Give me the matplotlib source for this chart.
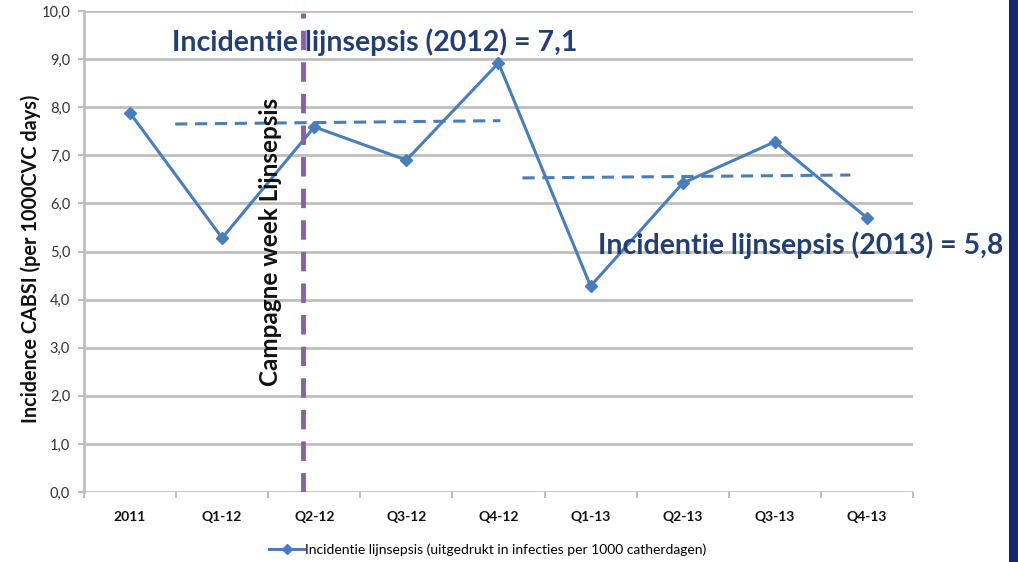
import matplotlib
matplotlib.use("Agg")
import matplotlib.pyplot as plt
from matplotlib.lines import Line2D
from matplotlib.patches import Rectangle

categories = ["2011", "Q1-12", "Q2-12", "Q3-12", "Q4-12", "Q1-13", "Q2-13", "Q3-13", "Q4-13"]
incidence = [7.88, 5.28, 7.59, 6.90, 8.92, 4.28, 6.42, 7.28, 5.70]
yticks = [0, 1, 2, 3, 4, 5, 6, 7, 8, 9, 10]
ytick_labels = ["0,0", "1,0", "2,0", "3,0", "4,0", "5,0", "6,0", "7,0", "8,0", "9,0", "10,0"]
trend2012_x = [0.49, 4.02]
trend2012_y = [7.65, 7.72]
trend2013_x = [4.26, 7.82]
trend2013_y = [6.53, 6.59]
campaign_x = 1.88
legend_label = "Incidentie lijnsepsis (uitgedrukt in infecties per 1000 catherdagen)"
annot2012 = "Incidentie lijnsepsis (2012) = 7,1"
annot2013 = "Incidentie lijnsepsis (2013) = 5,8"
campaign_label = "Campagne week Lijnsepsis"
ylabel = "Incidence CABSI (per 1000CVC days)"

plt.rcParams['font.family'] = ['Lato', 'DejaVu Sans']

W, H = 1018, 562
fig = plt.figure(figsize=(W / 100, H / 100), dpi=100)
ax = fig.add_axes([84 / W, 1 - 492 / H, (913 - 84) / W, (492 - 11) / H])

line_color = "#4A7EBB"
navy = "#233E72"
grid_color = "#BEBEBE"

x = list(range(len(categories)))
ax.plot(x, incidence, color=line_color, lw=2.2, marker="D", ms=6.5, zorder=4)
ax.plot(trend2012_x, trend2012_y, color=line_color, lw=2.2, ls=(0, (4, 2.5)), zorder=3)
ax.plot(trend2013_x, trend2013_y, color=line_color, lw=2.2, ls=(0, (4, 2.5)), zorder=3)
ax.axvline(campaign_x, ymin=0, ymax=0.995, color="#8A5FA8", lw=3.5, ls=(0, (4, 2.5)), zorder=5)

ax.set_xlim(-0.5, len(categories) - 0.5)
ax.set_ylim(0, 10)
ax.set_yticks(yticks)
ax.set_yticklabels(ytick_labels, fontsize=10.5, color="#333333")
ax.set_xticks(x)
ax.set_xticklabels(categories, fontsize=10, fontweight="bold", color="#111111")
ax.tick_params(axis="x", length=0, pad=14)
ax.set_xticks([i + 0.5 for i in range(-1, len(categories))], minor=True)
ax.tick_params(axis="x", which="minor", length=4, color=grid_color, width=1.5)
ax.tick_params(axis="y", length=4, color=grid_color, width=1.5, pad=6)
ax.grid(axis="y", color=grid_color, lw=2)
ax.set_axisbelow(True)
for s in ["top", "right"]:
    ax.spines[s].set_visible(False)
ax.spines["bottom"].set_visible(False)
ax.spines["left"].set_color(grid_color)
ax.spines["left"].set_linewidth(2)

ax.set_ylabel(ylabel, fontsize=14.3, fontweight="bold", color="#111111")
ax.yaxis.set_label_coords(-0.052, 0.485)

fig.text(172 / W, 1 - 42 / H, annot2012, fontsize=20.5, fontweight="bold", color=navy, va="center", ha="left")
fig.text(598 / W, 1 - 245 / H, annot2013, fontsize=20.5, fontweight="bold", color=navy, va="center", ha="left")
fig.text(270 / W, 1 - 242 / H, campaign_label, fontsize=17.5, fontweight="bold", color="#111111",
         rotation=90, va="center", ha="center")

handle = Line2D([], [], color=line_color, lw=2.2, marker="D", ms=5)
fig.legend([handle], [legend_label], loc="center", bbox_to_anchor=(488 / W, 1 - 550 / H),
           frameon=False, fontsize=10, handlelength=2.5, handletextpad=0.1)

fig.patches.append(Rectangle((1009 / W, 0), 9 / W, 1, transform=fig.transFigure,
                             facecolor="#142A6E", edgecolor="none"))

fig.savefig("out.png", dpi=100)
